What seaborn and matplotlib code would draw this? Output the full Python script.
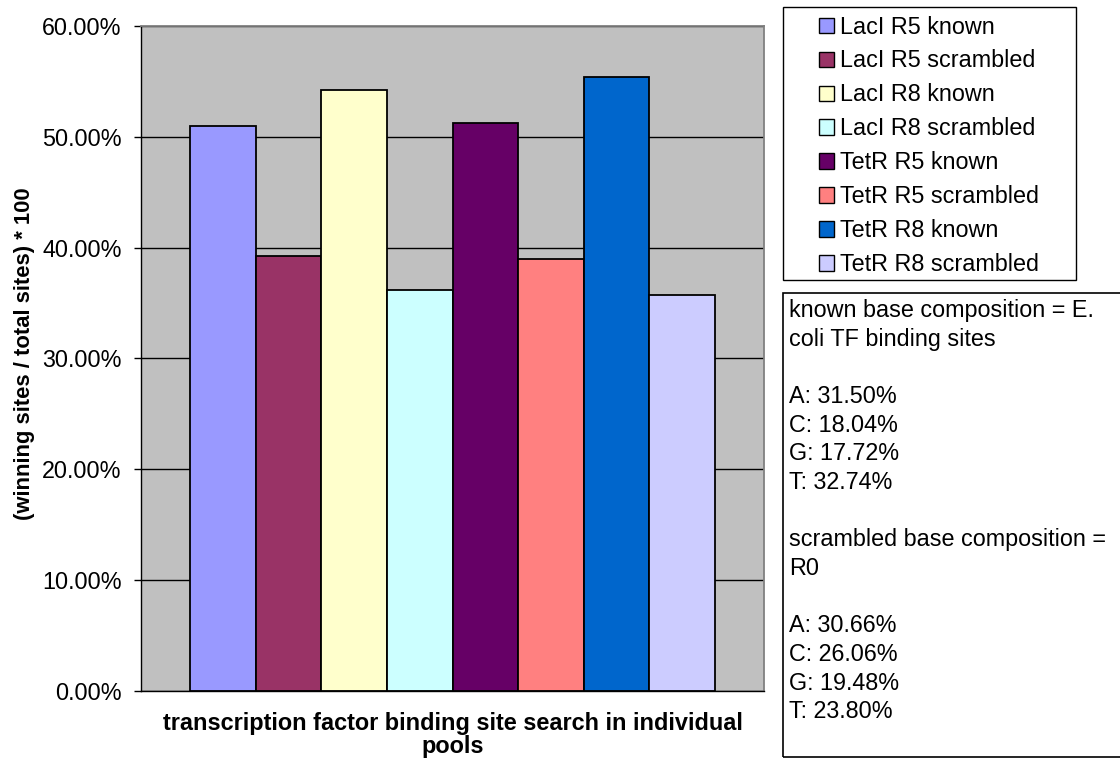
import matplotlib
matplotlib.use("Agg")
import matplotlib.pyplot as plt
from matplotlib.patches import Patch, Rectangle
from matplotlib.ticker import FuncFormatter, FixedLocator
import seaborn as sns

# Pools and their share of winning sites (percent)
pools = [
    "LacI R5 known", "LacI R5 scrambled", "LacI R8 known", "LacI R8 scrambled",
    "TetR R5 known", "TetR R5 scrambled", "TetR R8 known", "TetR R8 scrambled",
]
winning_pct = [51.0, 39.2, 54.2, 36.2, 51.2, 39.0, 55.4, 35.7]
bar_colors = ["#9999FF", "#993366", "#FFFFCC", "#CCFFFF",
              "#660066", "#FF8080", "#0066CC", "#CCCCFF"]
y_ticks = [0, 10, 20, 30, 40, 50, 60]

note_text = ("known base composition = E.\ncoli TF binding sites\n\n"
             "A: 31.50%\nC: 18.04%\nG: 17.72%\nT: 32.74%\n\n"
             "scrambled base composition =\nR0\n\n"
             "A: 30.66%\nC: 26.06%\nG: 19.48%\nT: 23.80%")

sns.set_style("white")
plt.rcParams["font.family"] = ["Liberation Sans", "DejaVu Sans"]
plt.rcParams.update({"text.color": "black", "axes.labelcolor": "black",
                     "xtick.color": "black", "ytick.color": "black"})

W, H = 1120, 759
FS = 16.8
fig = plt.figure(figsize=(W / 100, H / 100), dpi=100)

def fx(px):
    return px / W

def fy(py):
    return 1 - py / H

left, right, top, bottom = 141, 764, 26, 690.7
ax = fig.add_axes([fx(left), fy(bottom), fx(right - left), (bottom - top) / H])
ax.set_facecolor("#C0C0C0")

sns.barplot(x=pools, y=winning_pct, hue=pools, palette=bar_colors, order=pools,
            hue_order=pools, width=1.0, saturation=1, edgecolor="black",
            linewidth=1.3, legend=False, ax=ax)

ax.set_xlim(-1.25, 8.25)
ax.set_ylim(0, 60)
ax.yaxis.set_major_locator(FixedLocator(y_ticks))
ax.yaxis.set_major_formatter(FuncFormatter(lambda v, _: f"{v:.2f}%"))
ax.set_xticks([-1.25, 8.25])
ax.set_xticklabels(["", ""])
ax.tick_params(axis="x", direction="out", length=3, width=1, color="black")
ax.tick_params(axis="y", direction="out", length=5, width=1, color="black",
               labelsize=FS, pad=9, left=True, labelcolor="black")
ax.set_xlabel("")
ax.set_ylabel("")

ax.yaxis.grid(True, color="black", linewidth=1)
ax.xaxis.grid(False)
ax.set_axisbelow(True)
for side in ("left", "bottom"):
    ax.spines[side].set_color("black")
    ax.spines[side].set_linewidth(1)
for side in ("top", "right"):
    ax.spines[side].set_color("#808080")
    ax.spines[side].set_linewidth(1.3)

# Axis titles
fig.text(fx(25), fy(354), "(winning sites / total sites) * 100", rotation=90,
         ha="center", va="center", fontsize=15.8, fontweight="bold")
fig.text(fx(453), fy(735), "transcription factor binding site search in individual\npools",
         ha="center", va="center", multialignment="center", fontsize=16.9,
         fontweight="bold", linespacing=1.0)

# Legend with its own frame
handles = [Patch(facecolor=c, edgecolor="black", linewidth=1) for c in bar_colors]
fig.legend(handles, pools, loc="upper left", bbox_to_anchor=(fx(819), fy(15.5)),
           frameon=False, fontsize=FS, handlelength=0.64, handleheight=0.64,
           handletextpad=0.26, labelspacing=0.47, borderpad=0, borderaxespad=0)
fig.patches.append(Rectangle((fx(783), fy(280)), fx(1076 - 783), (280 - 7) / H,
                             transform=fig.transFigure, fill=False,
                             edgecolor="black", linewidth=1))

# Base composition note
fig.patches.append(Rectangle((fx(783), fy(757)), fx(1130 - 783), (757 - 293) / H,
                             transform=fig.transFigure, fill=False,
                             edgecolor="black", linewidth=1.2))
fig.text(fx(789), fy(299), note_text, ha="left", va="top", fontsize=FS,
         linespacing=1.315)

fig.savefig("out.png", dpi=100)
